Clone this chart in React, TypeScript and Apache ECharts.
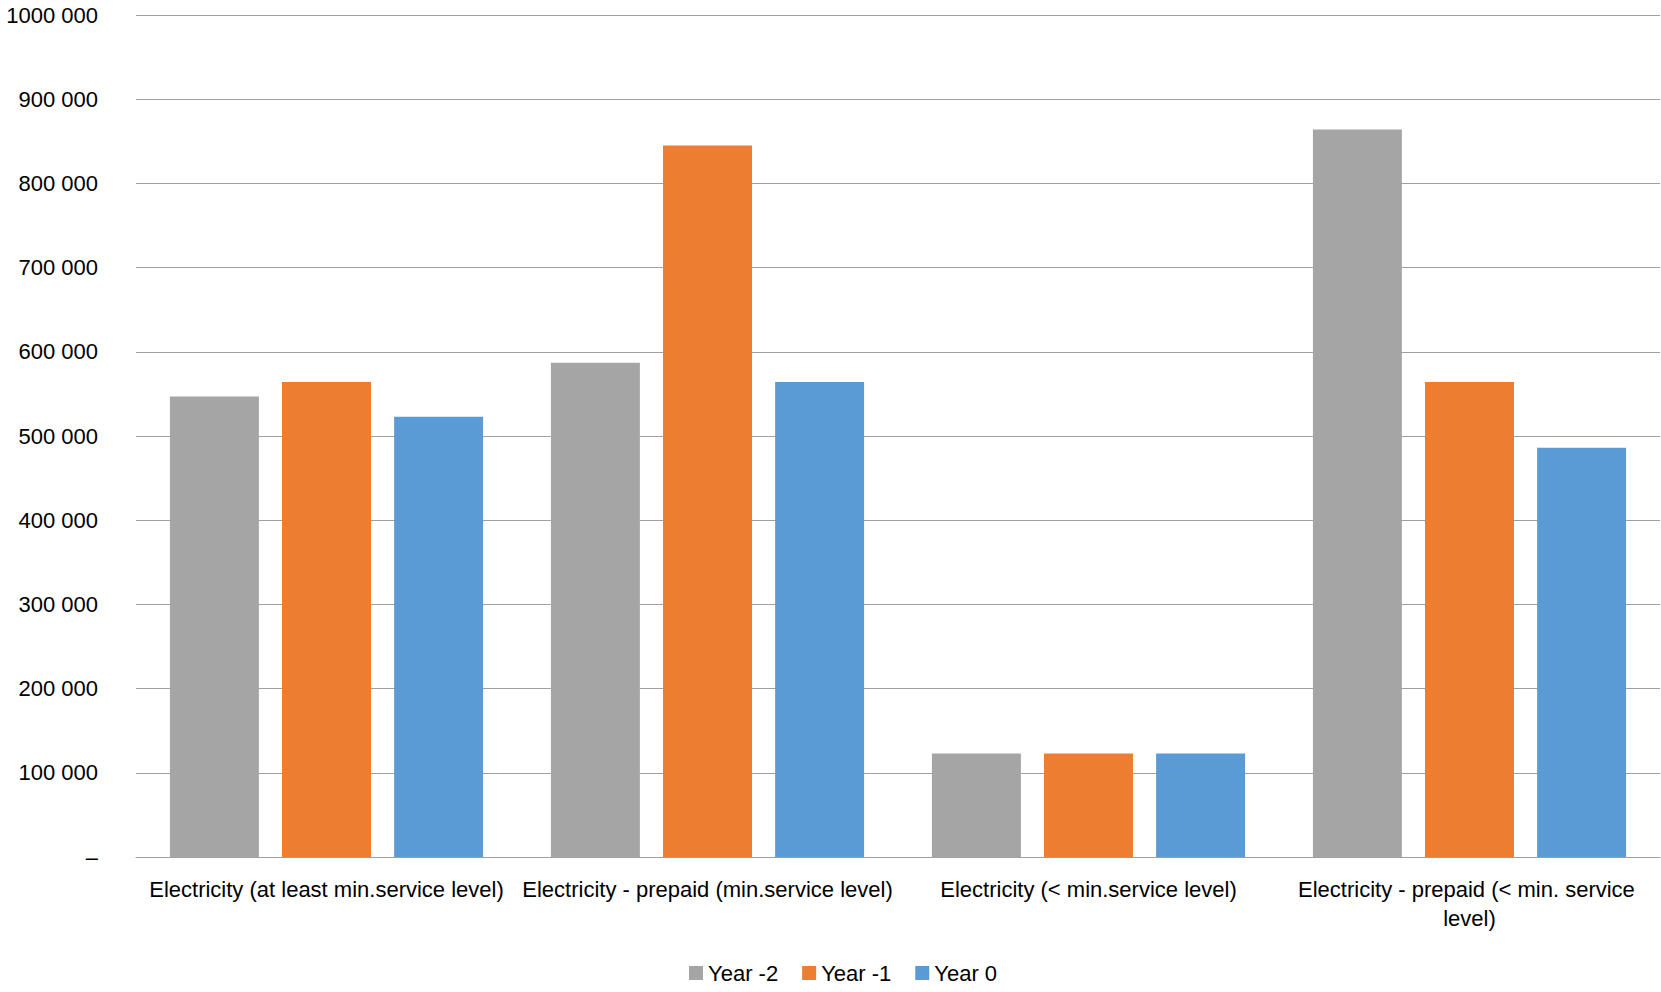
import React, { useEffect, useRef } from "react";
import * as echarts from "echarts";

const categories = [
  "Electricity (at least min.service level)",
  "Electricity - prepaid (min.service level)",
  "Electricity (< min.service level)",
  "Electricity - prepaid (< min. service level)",
];
const seriesNames = ["Year -2", "Year -1", "Year 0"];
const yearMinus2 = [547000, 587000, 123000, 864000];
const yearMinus1 = [564000, 845000, 123000, 564000];
const year0 = [523000, 564000, 123000, 486000];
const colors = ["#A5A5A5", "#ED7D31", "#5B9BD5"];

const FONT = '"Liberation Sans", Arial, sans-serif';
const FS = 22;

export default function App() {
  const ref = useRef<HTMLDivElement>(null);
  useEffect(() => {
    if (!ref.current) return;
    const chart = echarts.init(ref.current, undefined, { renderer: "svg" });
    const values = [yearMinus2, yearMinus1, year0];
    chart.setOption({
      animation: false,
      backgroundColor: "#ffffff",
      textStyle: { fontFamily: FONT, color: "#000" },
      grid: {
        left: 136,
        right: 1,
        top: 15,
        bottom: 135,
        containLabel: false,
        outerBoundsMode: "none",
      },
      legend: {
        data: seriesNames,
        left: 684,
        top: 957,
        icon: "rect",
        itemWidth: 14,
        itemHeight: 14,
        itemGap: 24,
        textStyle: { fontFamily: FONT, fontSize: FS, color: "#000" },
      },
      xAxis: {
        type: "category",
        data: categories,
        axisTick: { show: false },
        axisLine: { show: true, lineStyle: { color: "#a0a0a0", width: 1 } },
        axisLabel: {
          fontFamily: FONT,
          fontSize: FS,
          color: "#000",
          margin: 18,
          interval: 0,
          width: 385,
          overflow: "break",
          lineHeight: 29,
        },
      },
      yAxis: {
        type: "value",
        min: 0,
        max: 1000000,
        interval: 100000,
        axisLine: { show: false },
        axisTick: { show: false },
        splitLine: { lineStyle: { color: "#a0a0a0", width: 1 } },
        axisLabel: {
          fontFamily: FONT,
          fontSize: FS,
          color: "#000",
          margin: 38,
          formatter: (v: number) => (v === 0 ? "–" : `${v / 1000} 000`),
        },
      },
      series: seriesNames.map((name, i) => ({
        name,
        type: "bar",
        data: values[i],
        barGap: "26%",
        barCategoryGap: "17.8%",
        itemStyle: { color: colors[i] },
      })),
    });
    return () => chart.dispose();
  }, []);
  return (
    <div
      ref={ref}
      style={{ position: "fixed", left: 0, top: 0, width: 1661, height: 992 }}
    />
  );
}
